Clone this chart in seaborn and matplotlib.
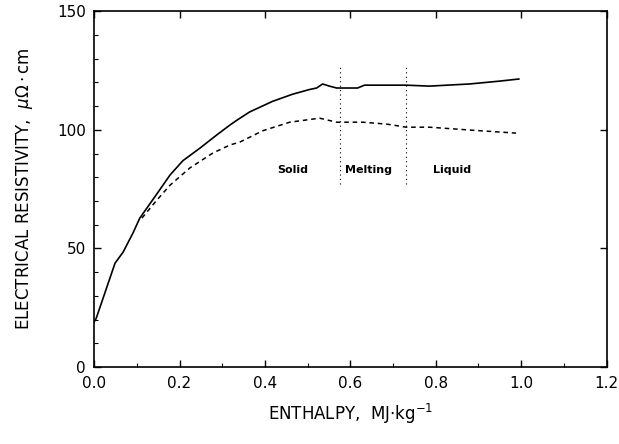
import numpy as np
import pandas as pd
import matplotlib
matplotlib.use("Agg")
import matplotlib.pyplot as plt
from matplotlib.ticker import MultipleLocator
import seaborn as sns

# values
enthalpy_solid = [0.0, 0.005, 0.049, 0.068, 0.091, 0.107, 0.147, 0.178, 0.208, 0.248,
                  0.287, 0.318, 0.334, 0.364, 0.418, 0.465, 0.505, 0.521, 0.535, 0.551,
                  0.568, 0.617, 0.633, 0.731, 0.785, 0.879, 0.949, 0.995]
resist_solid = [19.0, 20.6, 43.8, 48.5, 56.5, 62.8, 73.0, 81.0, 87.0, 92.3,
                97.8, 102.0, 104.0, 107.5, 112.0, 115.0, 117.0, 117.6, 119.3, 118.4,
                117.6, 117.6, 118.8, 118.8, 118.4, 119.3, 120.5, 121.4]

enthalpy_dash = [0.112, 0.147, 0.178, 0.224, 0.278, 0.318, 0.341, 0.395, 0.458, 0.528,
                 0.568, 0.629, 0.685, 0.731, 0.785, 0.879, 0.988]
resist_dash = [62.8, 70.4, 76.7, 83.9, 90.2, 93.6, 94.8, 99.6, 103.2, 104.9,
               103.2, 103.2, 102.4, 101.1, 101.1, 99.9, 98.6]

phase_bounds = [0.575, 0.731]
phase_names = ["Solid", "Melting", "Liquid"]
phase_x = [0.465, 0.643, 0.837]

solid_df = pd.DataFrame({"H": enthalpy_solid, "rho": resist_solid})
dash_df = pd.DataFrame({"H": enthalpy_dash, "rho": resist_dash})

sns.set_style("ticks", {"text.color": "black", "axes.labelcolor": "black",
                        "xtick.color": "black", "ytick.color": "black",
                        "axes.edgecolor": "black"})
plt.rcParams['font.family'] = ['DejaVu Sans']

fig = plt.figure(figsize=(6.19, 4.44), dpi=100)
ax = fig.add_axes([0.152, 0.173, 0.828, 0.802])

sns.lineplot(data=solid_df, x="H", y="rho", ax=ax, color="black", lw=1.2,
             sort=False, estimator=None)
sns.lineplot(data=dash_df, x="H", y="rho", ax=ax, color="black", lw=1.1,
             sort=False, estimator=None, dashes=False, linestyle=(0, (3, 2.5)))

# phase boundaries
for xb in phase_bounds:
    ax.plot([xb, xb], [77, 127], color="black", lw=0.8, linestyle=(0, (1, 3)))
for name, xp in zip(phase_names, phase_x):
    ax.text(xp, 83, name, ha="center", va="center", fontsize=8, fontweight="bold",
            color="black")

ax.set_xlim(0, 1.2)
ax.set_ylim(0, 150)
ax.xaxis.set_major_locator(MultipleLocator(0.2))
ax.xaxis.set_minor_locator(MultipleLocator(0.1))
ax.yaxis.set_major_locator(MultipleLocator(50))
ax.yaxis.set_minor_locator(MultipleLocator(10))
ax.set_xticklabels([f"{v:.1f}" for v in ax.get_xticks()])
ax.tick_params(which="major", direction="in", length=5, width=1, top=True, right=True,
               labelsize=11, pad=6, colors="black")
ax.tick_params(which="minor", direction="in", length=3, width=0.8, top=False, right=False)
for s in ax.spines.values():
    s.set_linewidth(1.2)
    s.set_color("black")

ax.set_xlabel(r"ENTHALPY,  MJ$\cdot$kg$^{-1}$", fontsize=12, labelpad=8, color="black")
ax.set_ylabel(r"ELECTRICAL RESISTIVITY,  $\mu\Omega\cdot$cm", fontsize=12, labelpad=16,
              color="black")

fig.savefig("out.png", dpi=100)
